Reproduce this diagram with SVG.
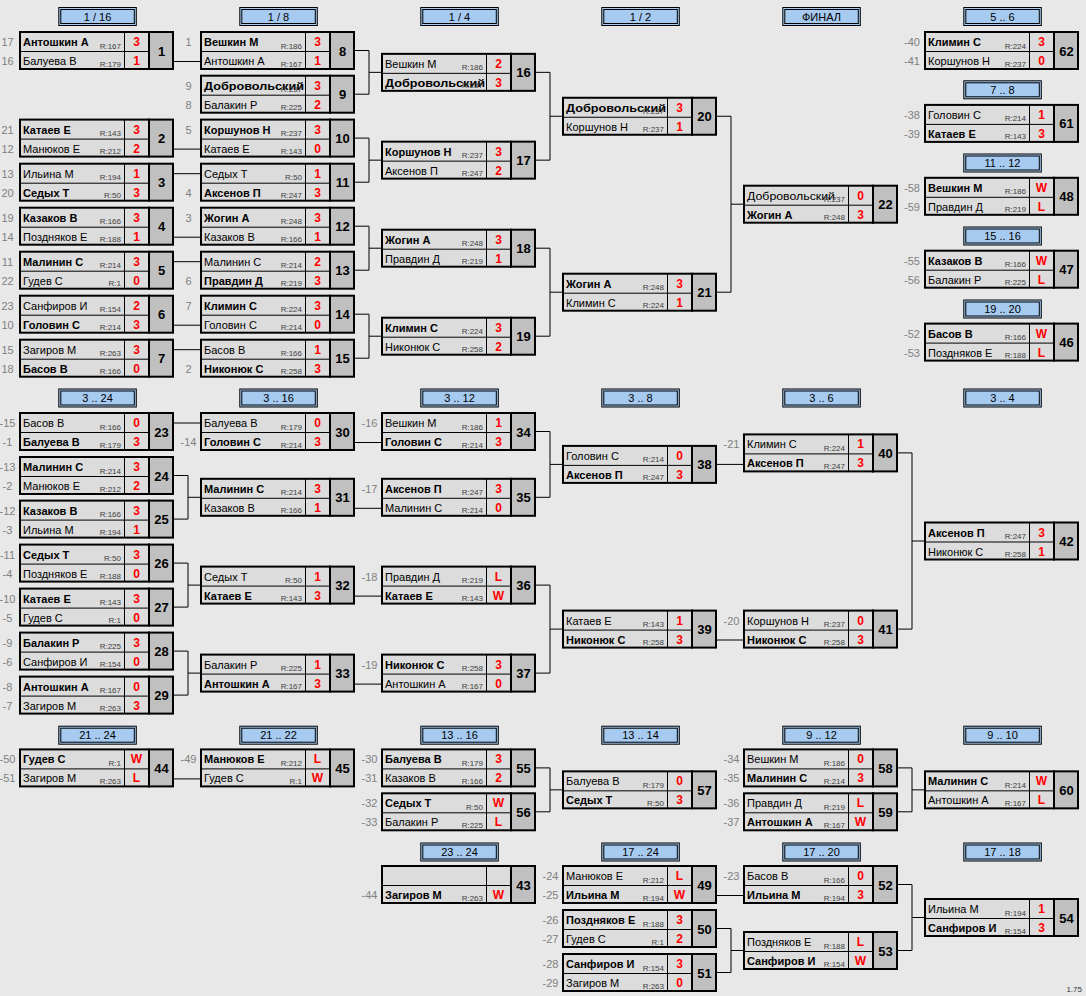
<svg xmlns="http://www.w3.org/2000/svg" width="1086" height="996" viewBox="0 0 1086 996">
<style>
text{font-family:"Liberation Sans",Arial,sans-serif;font-size:11px;fill:#000}
.b{font-weight:bold}
.r{font-size:8px;fill:#404040;text-anchor:end}
.s{font-size:12px;font-weight:bold;fill:#f00;text-anchor:middle}
.k{font-size:13px;font-weight:bold;text-anchor:middle}
.d{fill:#808080;text-anchor:middle}
.h{text-anchor:middle}
.v{font-size:8px;fill:#333;text-anchor:end}
</style>
<defs>
<clipPath id="nc" clipPathUnits="userSpaceOnUse"><rect x="1" y="1" width="104" height="37"/></clipPath>
<g id="box">
<rect x="1" y="1" width="153" height="37" fill="#dcdcdc"/>
<rect x="130" y="1" width="24" height="37" fill="#c0c0c0"/>
<path d="M1 20.5H130M105.5 1V38" stroke="#000" stroke-width="1" fill="none"/>
<path d="M130 0V39" stroke="#000" stroke-width="2"/>
<rect x="1" y="1" width="153" height="37" fill="none" stroke="#000" stroke-width="2"/>
</g>
<g id="hdr">
<rect x="0.5" y="0.5" width="77.5" height="18" fill="#a6caf0" stroke="#000" stroke-width="1"/>
<rect x="2.5" y="2.5" width="73.5" height="14" fill="#a6caf0" stroke="#000" stroke-width="1"/>
</g>
</defs>
<rect width="1086" height="996" fill="#e8e8e8"/>

<g id="headers">
<g id="h1"><use href="#hdr" x="58.3" y="7"/><text class="h" x="97.5" y="20.5">1 / 16</text></g>
<g id="h2"><use href="#hdr" x="239.3" y="7"/><text class="h" x="278.5" y="20.5">1 / 8</text></g>
<g id="h3"><use href="#hdr" x="420.3" y="7"/><text class="h" x="459.5" y="20.5">1 / 4</text></g>
<g id="h4"><use href="#hdr" x="601.3" y="7"/><text class="h" x="640.5" y="20.5">1 / 2</text></g>
<g id="h5"><use href="#hdr" x="782.3" y="7"/><text class="h" x="821.5" y="20.5">ФИНАЛ</text></g>
<g id="h6"><use href="#hdr" x="963.3" y="7"/><text class="h" x="1002.5" y="20.5">5 .. 6</text></g>
<g id="h7"><use href="#hdr" x="963.3" y="80.3"/><text class="h" x="1002.5" y="93.8">7 .. 8</text></g>
<g id="h8"><use href="#hdr" x="963.3" y="153.5"/><text class="h" x="1002.5" y="167">11 .. 12</text></g>
<g id="h9"><use href="#hdr" x="963.3" y="226.5"/><text class="h" x="1002.5" y="240">15 .. 16</text></g>
<g id="h10"><use href="#hdr" x="963.3" y="299.5"/><text class="h" x="1002.5" y="313">19 .. 20</text></g>
<g id="h11"><use href="#hdr" x="58.3" y="388.5"/><text class="h" x="97.5" y="402">3 .. 24</text></g>
<g id="h12"><use href="#hdr" x="239.3" y="388.5"/><text class="h" x="278.5" y="402">3 .. 16</text></g>
<g id="h13"><use href="#hdr" x="420.3" y="388.5"/><text class="h" x="459.5" y="402">3 .. 12</text></g>
<g id="h14"><use href="#hdr" x="601.3" y="388.5"/><text class="h" x="640.5" y="402">3 .. 8</text></g>
<g id="h15"><use href="#hdr" x="782.3" y="388.5"/><text class="h" x="821.5" y="402">3 .. 6</text></g>
<g id="h16"><use href="#hdr" x="963.3" y="388.5"/><text class="h" x="1002.5" y="402">3 .. 4</text></g>
<g id="h17"><use href="#hdr" x="58.3" y="725.7"/><text class="h" x="97.5" y="739.2">21 .. 24</text></g>
<g id="h18"><use href="#hdr" x="239.3" y="725.7"/><text class="h" x="278.5" y="739.2">21 .. 22</text></g>
<g id="h19"><use href="#hdr" x="420.3" y="725.7"/><text class="h" x="459.5" y="739.2">13 .. 16</text></g>
<g id="h20"><use href="#hdr" x="601.3" y="725.7"/><text class="h" x="640.5" y="739.2">13 .. 14</text></g>
<g id="h21"><use href="#hdr" x="782.3" y="725.7"/><text class="h" x="821.5" y="739.2">9 .. 12</text></g>
<g id="h22"><use href="#hdr" x="963.3" y="725.7"/><text class="h" x="1002.5" y="739.2">9 .. 10</text></g>
<g id="h23"><use href="#hdr" x="420.3" y="842.5"/><text class="h" x="459.5" y="856">23 .. 24</text></g>
<g id="h24"><use href="#hdr" x="601.3" y="842.5"/><text class="h" x="640.5" y="856">17 .. 24</text></g>
<g id="h25"><use href="#hdr" x="782.3" y="842.5"/><text class="h" x="821.5" y="856">17 .. 20</text></g>
<g id="h26"><use href="#hdr" x="963.3" y="842.5"/><text class="h" x="1002.5" y="856">17 .. 18</text></g>
</g>

<g id="connectors" fill="none" stroke="#000" stroke-width="1">
<path d="M174 61.5H200M174 149.1H200M174 173.7H200M174 237.2H200M174 261.7H200M174 325.2H200M174 349.7H200"/>
<path d="M355 50.5H369V94.2H355M369 72.35H381M355 138.1H369V182.2H355M369 160.15H381M355 226.2H369V270.2H355M369 248.2H381M355 314.2H369V358.2H355M369 336.2H381"/>
<path d="M536 72.35H550V160.15H536M550 116.25H562M536 248.2H550V336.2H536M550 292.2H562"/>
<path d="M717 116.25H731V292.2H717M731 204.2H743"/>
<path d="M174 423H200M174 475.5H188V519.1H174M188 497.3H200M174 563.1H188V607.1H174M188 585.1H200M174 651.1H188V695.1H174M188 673.1H200"/>
<path d="M355 442.5H381M355 508.3H381M355 596.1H381M355 684.1H381"/>
<path d="M536 431.5H550V497.3H536M550 464.4H562M536 585.1H550V673.1H536M550 629.1H562"/>
<path d="M717 464.4H743M717 640H743M898 452.9H912V629.1H898M912 541H924"/>
<path d="M174 778.9H200M536 767.9H550V811.8H536M550 789.85H562M898 767.9H912V811.8H898M912 789.85H924"/>
<path d="M717 895.5H743M717 928.5H731V972.5H717M731 950.5H743M898 884.5H912V950.5H898M912 917.5H924"/>
</g>

<g id="m1" transform="translate(19 31)"><use href="#box"/><text class="d" x="-11.5" y="15">17</text><text class="d" x="-11.5" y="34">16</text><text class="b" x="4" y="15">Антошкин А</text><text x="4" y="34">Балуева В</text><text class="r" x="102" y="17.5">R:167</text><text class="r" x="102" y="35.5">R:179</text><text class="s" x="117.5" y="15">3</text><text class="s" x="117.5" y="34">1</text><text class="k" x="142.5" y="24.5">1</text></g>
<g id="m2" transform="translate(19 118.6)"><use href="#box"/><text class="d" x="-11.5" y="15">21</text><text class="d" x="-11.5" y="34">12</text><text class="b" x="4" y="15">Катаев Е</text><text x="4" y="34">Манюков Е</text><text class="r" x="102" y="17.5">R:143</text><text class="r" x="102" y="35.5">R:212</text><text class="s" x="117.5" y="15">3</text><text class="s" x="117.5" y="34">2</text><text class="k" x="142.5" y="24.5">2</text></g>
<g id="m3" transform="translate(19 162.7)"><use href="#box"/><text class="d" x="-11.5" y="15">13</text><text class="d" x="-11.5" y="34">20</text><text x="4" y="15">Ильина М</text><text class="b" x="4" y="34">Седых Т</text><text class="r" x="102" y="17.5">R:194</text><text class="r" x="102" y="35.5">R:50</text><text class="s" x="117.5" y="15">1</text><text class="s" x="117.5" y="34">3</text><text class="k" x="142.5" y="24.5">3</text></g>
<g id="m4" transform="translate(19 206.7)"><use href="#box"/><text class="d" x="-11.5" y="15">19</text><text class="d" x="-11.5" y="34">14</text><text class="b" x="4" y="15">Казаков В</text><text x="4" y="34">Поздняков Е</text><text class="r" x="102" y="17.5">R:166</text><text class="r" x="102" y="35.5">R:188</text><text class="s" x="117.5" y="15">3</text><text class="s" x="117.5" y="34">1</text><text class="k" x="142.5" y="24.5">4</text></g>
<g id="m5" transform="translate(19 250.7)"><use href="#box"/><text class="d" x="-11.5" y="15">11</text><text class="d" x="-11.5" y="34">22</text><text class="b" x="4" y="15">Малинин С</text><text x="4" y="34">Гудев С</text><text class="r" x="102" y="17.5">R:214</text><text class="r" x="102" y="35.5">R:1</text><text class="s" x="117.5" y="15">3</text><text class="s" x="117.5" y="34">0</text><text class="k" x="142.5" y="24.5">5</text></g>
<g id="m6" transform="translate(19 294.7)"><use href="#box"/><text class="d" x="-11.5" y="15">23</text><text class="d" x="-11.5" y="34">10</text><text x="4" y="15">Санфиров И</text><text class="b" x="4" y="34">Головин С</text><text class="r" x="102" y="17.5">R:154</text><text class="r" x="102" y="35.5">R:214</text><text class="s" x="117.5" y="15">2</text><text class="s" x="117.5" y="34">3</text><text class="k" x="142.5" y="24.5">6</text></g>
<g id="m7" transform="translate(19 338.7)"><use href="#box"/><text class="d" x="-11.5" y="15">15</text><text class="d" x="-11.5" y="34">18</text><text x="4" y="15">Загиров М</text><text class="b" x="4" y="34">Басов В</text><text class="r" x="102" y="17.5">R:263</text><text class="r" x="102" y="35.5">R:166</text><text class="s" x="117.5" y="15">3</text><text class="s" x="117.5" y="34">0</text><text class="k" x="142.5" y="24.5">7</text></g>

<g id="m8" transform="translate(200 31)"><use href="#box"/><text class="d" x="-11.5" y="15">1</text><text class="b" x="4" y="15">Вешкин М</text><text x="4" y="34">Антошкин А</text><text class="r" x="102" y="17.5">R:186</text><text class="r" x="102" y="35.5">R:167</text><text class="s" x="117.5" y="15">3</text><text class="s" x="117.5" y="34">1</text><text class="k" x="142.5" y="24.5">8</text></g>
<g id="m9" transform="translate(200 74.7)"><use href="#box"/><text class="d" x="-11.5" y="15">9</text><text class="d" x="-11.5" y="34">8</text><text class="b" x="4" y="15" clip-path="url(#nc)" textLength="100" lengthAdjust="spacingAndGlyphs">Добровольский</text><text x="4" y="34">Балакин Р</text><text class="r" x="102" y="17.5">R:237</text><text class="r" x="102" y="35.5">R:225</text><text class="s" x="117.5" y="15">3</text><text class="s" x="117.5" y="34">2</text><text class="k" x="142.5" y="24.5">9</text></g>
<g id="m10" transform="translate(200 118.6)"><use href="#box"/><text class="d" x="-11.5" y="15">5</text><text class="b" x="4" y="15">Коршунов Н</text><text x="4" y="34">Катаев Е</text><text class="r" x="102" y="17.5">R:237</text><text class="r" x="102" y="35.5">R:143</text><text class="s" x="117.5" y="15">3</text><text class="s" x="117.5" y="34">0</text><text class="k" x="142.5" y="24.5">10</text></g>
<g id="m11" transform="translate(200 162.7)"><use href="#box"/><text class="d" x="-11.5" y="34">4</text><text x="4" y="15">Седых Т</text><text class="b" x="4" y="34">Аксенов П</text><text class="r" x="102" y="17.5">R:50</text><text class="r" x="102" y="35.5">R:247</text><text class="s" x="117.5" y="15">1</text><text class="s" x="117.5" y="34">3</text><text class="k" x="142.5" y="24.5">11</text></g>
<g id="m12" transform="translate(200 206.7)"><use href="#box"/><text class="d" x="-11.5" y="15">3</text><text class="b" x="4" y="15">Жогин А</text><text x="4" y="34">Казаков В</text><text class="r" x="102" y="17.5">R:248</text><text class="r" x="102" y="35.5">R:166</text><text class="s" x="117.5" y="15">3</text><text class="s" x="117.5" y="34">1</text><text class="k" x="142.5" y="24.5">12</text></g>
<g id="m13" transform="translate(200 250.7)"><use href="#box"/><text class="d" x="-11.5" y="34">6</text><text x="4" y="15">Малинин С</text><text class="b" x="4" y="34">Правдин Д</text><text class="r" x="102" y="17.5">R:214</text><text class="r" x="102" y="35.5">R:219</text><text class="s" x="117.5" y="15">2</text><text class="s" x="117.5" y="34">3</text><text class="k" x="142.5" y="24.5">13</text></g>
<g id="m14" transform="translate(200 294.7)"><use href="#box"/><text class="d" x="-11.5" y="15">7</text><text class="b" x="4" y="15">Климин С</text><text x="4" y="34">Головин С</text><text class="r" x="102" y="17.5">R:224</text><text class="r" x="102" y="35.5">R:214</text><text class="s" x="117.5" y="15">3</text><text class="s" x="117.5" y="34">0</text><text class="k" x="142.5" y="24.5">14</text></g>
<g id="m15" transform="translate(200 338.7)"><use href="#box"/><text class="d" x="-11.5" y="34">2</text><text x="4" y="15">Басов В</text><text class="b" x="4" y="34">Никонюк С</text><text class="r" x="102" y="17.5">R:166</text><text class="r" x="102" y="35.5">R:258</text><text class="s" x="117.5" y="15">1</text><text class="s" x="117.5" y="34">3</text><text class="k" x="142.5" y="24.5">15</text></g>

<g id="m16" transform="translate(381 52.85)"><use href="#box"/><text x="4" y="15">Вешкин М</text><text class="b" x="4" y="34" clip-path="url(#nc)" textLength="100" lengthAdjust="spacingAndGlyphs">Добровольский</text><text class="r" x="102" y="17.5">R:186</text><text class="r" x="102" y="35.5">R:237</text><text class="s" x="117.5" y="15">2</text><text class="s" x="117.5" y="34">3</text><text class="k" x="142.5" y="24.5">16</text></g>
<g id="m17" transform="translate(381 140.65)"><use href="#box"/><text class="b" x="4" y="15">Коршунов Н</text><text x="4" y="34">Аксенов П</text><text class="r" x="102" y="17.5">R:237</text><text class="r" x="102" y="35.5">R:247</text><text class="s" x="117.5" y="15">3</text><text class="s" x="117.5" y="34">2</text><text class="k" x="142.5" y="24.5">17</text></g>
<g id="m18" transform="translate(381 228.7)"><use href="#box"/><text class="b" x="4" y="15">Жогин А</text><text x="4" y="34">Правдин Д</text><text class="r" x="102" y="17.5">R:248</text><text class="r" x="102" y="35.5">R:219</text><text class="s" x="117.5" y="15">3</text><text class="s" x="117.5" y="34">1</text><text class="k" x="142.5" y="24.5">18</text></g>
<g id="m19" transform="translate(381 316.7)"><use href="#box"/><text class="b" x="4" y="15">Климин С</text><text x="4" y="34">Никонюк С</text><text class="r" x="102" y="17.5">R:224</text><text class="r" x="102" y="35.5">R:258</text><text class="s" x="117.5" y="15">3</text><text class="s" x="117.5" y="34">2</text><text class="k" x="142.5" y="24.5">19</text></g>
<g id="m20" transform="translate(562 96.75)"><use href="#box"/><text class="b" x="4" y="15" clip-path="url(#nc)" textLength="100" lengthAdjust="spacingAndGlyphs">Добровольский</text><text x="4" y="34">Коршунов Н</text><text class="r" x="102" y="17.5">R:237</text><text class="r" x="102" y="35.5">R:237</text><text class="s" x="117.5" y="15">3</text><text class="s" x="117.5" y="34">1</text><text class="k" x="142.5" y="24.5">20</text></g>
<g id="m21" transform="translate(562 272.7)"><use href="#box"/><text class="b" x="4" y="15">Жогин А</text><text x="4" y="34">Климин С</text><text class="r" x="102" y="17.5">R:248</text><text class="r" x="102" y="35.5">R:224</text><text class="s" x="117.5" y="15">3</text><text class="s" x="117.5" y="34">1</text><text class="k" x="142.5" y="24.5">21</text></g>
<g id="m22" transform="translate(743 184.7)"><use href="#box"/><text x="4" y="15" clip-path="url(#nc)" textLength="88" lengthAdjust="spacingAndGlyphs">Добровольский</text><text class="b" x="4" y="34">Жогин А</text><text class="r" x="102" y="17.5">R:237</text><text class="r" x="102" y="35.5">R:248</text><text class="s" x="117.5" y="15">0</text><text class="s" x="117.5" y="34">3</text><text class="k" x="142.5" y="24.5">22</text></g>

<g id="m62" transform="translate(924 31)"><use href="#box"/><text class="d" x="-12" y="15">-40</text><text class="d" x="-12" y="34">-41</text><text class="b" x="4" y="15">Климин С</text><text x="4" y="34">Коршунов Н</text><text class="r" x="102" y="17.5">R:224</text><text class="r" x="102" y="35.5">R:237</text><text class="s" x="117.5" y="15">3</text><text class="s" x="117.5" y="34">0</text><text class="k" x="142.5" y="24.5">62</text></g>
<g id="m61" transform="translate(924 103.9)"><use href="#box"/><text class="d" x="-12" y="15">-38</text><text class="d" x="-12" y="34">-39</text><text x="4" y="15">Головин С</text><text class="b" x="4" y="34">Катаев Е</text><text class="r" x="102" y="17.5">R:214</text><text class="r" x="102" y="35.5">R:143</text><text class="s" x="117.5" y="15">1</text><text class="s" x="117.5" y="34">3</text><text class="k" x="142.5" y="24.5">61</text></g>
<g id="m48" transform="translate(924 176.8)"><use href="#box"/><text class="d" x="-12" y="15">-58</text><text class="d" x="-12" y="34">-59</text><text class="b" x="4" y="15">Вешкин М</text><text x="4" y="34">Правдин Д</text><text class="r" x="102" y="17.5">R:186</text><text class="r" x="102" y="35.5">R:219</text><text class="s" x="117.5" y="15">W</text><text class="s" x="117.5" y="34">L</text><text class="k" x="142.5" y="24.5">48</text></g>
<g id="m47" transform="translate(924 249.7)"><use href="#box"/><text class="d" x="-12" y="15">-55</text><text class="d" x="-12" y="34">-56</text><text class="b" x="4" y="15">Казаков В</text><text x="4" y="34">Балакин Р</text><text class="r" x="102" y="17.5">R:166</text><text class="r" x="102" y="35.5">R:225</text><text class="s" x="117.5" y="15">W</text><text class="s" x="117.5" y="34">L</text><text class="k" x="142.5" y="24.5">47</text></g>
<g id="m46" transform="translate(924 322.6)"><use href="#box"/><text class="d" x="-12" y="15">-52</text><text class="d" x="-12" y="34">-53</text><text class="b" x="4" y="15">Басов В</text><text x="4" y="34">Поздняков Е</text><text class="r" x="102" y="17.5">R:166</text><text class="r" x="102" y="35.5">R:188</text><text class="s" x="117.5" y="15">W</text><text class="s" x="117.5" y="34">L</text><text class="k" x="142.5" y="24.5">46</text></g>

<g id="m23" transform="translate(19 412)"><use href="#box"/><text class="d" x="-11.5" y="15">-15</text><text class="d" x="-11.5" y="34">-1</text><text x="4" y="15">Басов В</text><text class="b" x="4" y="34">Балуева В</text><text class="r" x="102" y="17.5">R:166</text><text class="r" x="102" y="35.5">R:179</text><text class="s" x="117.5" y="15">0</text><text class="s" x="117.5" y="34">3</text><text class="k" x="142.5" y="24.5">23</text></g>
<g id="m24" transform="translate(19 456)"><use href="#box"/><text class="d" x="-11.5" y="15">-13</text><text class="d" x="-11.5" y="34">-2</text><text class="b" x="4" y="15">Малинин С</text><text x="4" y="34">Манюков Е</text><text class="r" x="102" y="17.5">R:214</text><text class="r" x="102" y="35.5">R:212</text><text class="s" x="117.5" y="15">3</text><text class="s" x="117.5" y="34">2</text><text class="k" x="142.5" y="24.5">24</text></g>
<g id="m25" transform="translate(19 499.6)"><use href="#box"/><text class="d" x="-11.5" y="15">-12</text><text class="d" x="-11.5" y="34">-3</text><text class="b" x="4" y="15">Казаков В</text><text x="4" y="34">Ильина М</text><text class="r" x="102" y="17.5">R:166</text><text class="r" x="102" y="35.5">R:194</text><text class="s" x="117.5" y="15">3</text><text class="s" x="117.5" y="34">1</text><text class="k" x="142.5" y="24.5">25</text></g>
<g id="m26" transform="translate(19 543.6)"><use href="#box"/><text class="d" x="-11.5" y="15">-11</text><text class="d" x="-11.5" y="34">-4</text><text class="b" x="4" y="15">Седых Т</text><text x="4" y="34">Поздняков Е</text><text class="r" x="102" y="17.5">R:50</text><text class="r" x="102" y="35.5">R:188</text><text class="s" x="117.5" y="15">3</text><text class="s" x="117.5" y="34">0</text><text class="k" x="142.5" y="24.5">26</text></g>
<g id="m27" transform="translate(19 587.6)"><use href="#box"/><text class="d" x="-11.5" y="15">-10</text><text class="d" x="-11.5" y="34">-5</text><text class="b" x="4" y="15">Катаев Е</text><text x="4" y="34">Гудев С</text><text class="r" x="102" y="17.5">R:143</text><text class="r" x="102" y="35.5">R:1</text><text class="s" x="117.5" y="15">3</text><text class="s" x="117.5" y="34">0</text><text class="k" x="142.5" y="24.5">27</text></g>
<g id="m28" transform="translate(19 631.6)"><use href="#box"/><text class="d" x="-11.5" y="15">-9</text><text class="d" x="-11.5" y="34">-6</text><text class="b" x="4" y="15">Балакин Р</text><text x="4" y="34">Санфиров И</text><text class="r" x="102" y="17.5">R:225</text><text class="r" x="102" y="35.5">R:154</text><text class="s" x="117.5" y="15">3</text><text class="s" x="117.5" y="34">0</text><text class="k" x="142.5" y="24.5">28</text></g>
<g id="m29" transform="translate(19 675.6)"><use href="#box"/><text class="d" x="-11.5" y="15">-8</text><text class="d" x="-11.5" y="34">-7</text><text class="b" x="4" y="15">Антошкин А</text><text x="4" y="34">Загиров М</text><text class="r" x="102" y="17.5">R:167</text><text class="r" x="102" y="35.5">R:263</text><text class="s" x="117.5" y="15">0</text><text class="s" x="117.5" y="34">3</text><text class="k" x="142.5" y="24.5">29</text></g>

<g id="m30" transform="translate(200 412)"><use href="#box"/><text class="d" x="-11.5" y="34">-14</text><text x="4" y="15">Балуева В</text><text class="b" x="4" y="34">Головин С</text><text class="r" x="102" y="17.5">R:179</text><text class="r" x="102" y="35.5">R:214</text><text class="s" x="117.5" y="15">0</text><text class="s" x="117.5" y="34">3</text><text class="k" x="142.5" y="24.5">30</text></g>
<g id="m31" transform="translate(200 477.8)"><use href="#box"/><text class="b" x="4" y="15">Малинин С</text><text x="4" y="34">Казаков В</text><text class="r" x="102" y="17.5">R:214</text><text class="r" x="102" y="35.5">R:166</text><text class="s" x="117.5" y="15">3</text><text class="s" x="117.5" y="34">1</text><text class="k" x="142.5" y="24.5">31</text></g>
<g id="m32" transform="translate(200 565.6)"><use href="#box"/><text x="4" y="15">Седых Т</text><text class="b" x="4" y="34">Катаев Е</text><text class="r" x="102" y="17.5">R:50</text><text class="r" x="102" y="35.5">R:143</text><text class="s" x="117.5" y="15">1</text><text class="s" x="117.5" y="34">3</text><text class="k" x="142.5" y="24.5">32</text></g>
<g id="m33" transform="translate(200 653.6)"><use href="#box"/><text x="4" y="15">Балакин Р</text><text class="b" x="4" y="34">Антошкин А</text><text class="r" x="102" y="17.5">R:225</text><text class="r" x="102" y="35.5">R:167</text><text class="s" x="117.5" y="15">1</text><text class="s" x="117.5" y="34">3</text><text class="k" x="142.5" y="24.5">33</text></g>

<g id="m34" transform="translate(381 412)"><use href="#box"/><text class="d" x="-11.5" y="15">-16</text><text x="4" y="15">Вешкин М</text><text class="b" x="4" y="34">Головин С</text><text class="r" x="102" y="17.5">R:186</text><text class="r" x="102" y="35.5">R:214</text><text class="s" x="117.5" y="15">1</text><text class="s" x="117.5" y="34">3</text><text class="k" x="142.5" y="24.5">34</text></g>
<g id="m35" transform="translate(381 477.8)"><use href="#box"/><text class="d" x="-11.5" y="15">-17</text><text class="b" x="4" y="15">Аксенов П</text><text x="4" y="34">Малинин С</text><text class="r" x="102" y="17.5">R:247</text><text class="r" x="102" y="35.5">R:214</text><text class="s" x="117.5" y="15">3</text><text class="s" x="117.5" y="34">0</text><text class="k" x="142.5" y="24.5">35</text></g>
<g id="m36" transform="translate(381 565.6)"><use href="#box"/><text class="d" x="-11.5" y="15">-18</text><text x="4" y="15">Правдин Д</text><text class="b" x="4" y="34">Катаев Е</text><text class="r" x="102" y="17.5">R:219</text><text class="r" x="102" y="35.5">R:143</text><text class="s" x="117.5" y="15">L</text><text class="s" x="117.5" y="34">W</text><text class="k" x="142.5" y="24.5">36</text></g>
<g id="m37" transform="translate(381 653.6)"><use href="#box"/><text class="d" x="-11.5" y="15">-19</text><text class="b" x="4" y="15">Никонюк С</text><text x="4" y="34">Антошкин А</text><text class="r" x="102" y="17.5">R:258</text><text class="r" x="102" y="35.5">R:167</text><text class="s" x="117.5" y="15">3</text><text class="s" x="117.5" y="34">0</text><text class="k" x="142.5" y="24.5">37</text></g>
<g id="m38" transform="translate(562 444.9)"><use href="#box"/><text x="4" y="15">Головин С</text><text class="b" x="4" y="34">Аксенов П</text><text class="r" x="102" y="17.5">R:214</text><text class="r" x="102" y="35.5">R:247</text><text class="s" x="117.5" y="15">0</text><text class="s" x="117.5" y="34">3</text><text class="k" x="142.5" y="24.5">38</text></g>
<g id="m39" transform="translate(562 609.6)"><use href="#box"/><text x="4" y="15">Катаев Е</text><text class="b" x="4" y="34">Никонюк С</text><text class="r" x="102" y="17.5">R:143</text><text class="r" x="102" y="35.5">R:258</text><text class="s" x="117.5" y="15">1</text><text class="s" x="117.5" y="34">3</text><text class="k" x="142.5" y="24.5">39</text></g>
<g id="m40" transform="translate(743 433.4)"><use href="#box"/><text class="d" x="-11.5" y="15">-21</text><text x="4" y="15">Климин С</text><text class="b" x="4" y="34">Аксенов П</text><text class="r" x="102" y="17.5">R:224</text><text class="r" x="102" y="35.5">R:247</text><text class="s" x="117.5" y="15">1</text><text class="s" x="117.5" y="34">3</text><text class="k" x="142.5" y="24.5">40</text></g>
<g id="m41" transform="translate(743 609.6)"><use href="#box"/><text class="d" x="-11.5" y="15">-20</text><text x="4" y="15">Коршунов Н</text><text class="b" x="4" y="34">Никонюк С</text><text class="r" x="102" y="17.5">R:237</text><text class="r" x="102" y="35.5">R:258</text><text class="s" x="117.5" y="15">0</text><text class="s" x="117.5" y="34">3</text><text class="k" x="142.5" y="24.5">41</text></g>
<g id="m42" transform="translate(924 521.5)"><use href="#box"/><text class="b" x="4" y="15">Аксенов П</text><text x="4" y="34">Никонюк С</text><text class="r" x="102" y="17.5">R:247</text><text class="r" x="102" y="35.5">R:258</text><text class="s" x="117.5" y="15">3</text><text class="s" x="117.5" y="34">1</text><text class="k" x="142.5" y="24.5">42</text></g>

<g id="m44" transform="translate(19 748.4)"><use href="#box"/><text class="d" x="-11.5" y="15">-50</text><text class="d" x="-11.5" y="34">-51</text><text class="b" x="4" y="15">Гудев С</text><text x="4" y="34">Загиров М</text><text class="r" x="102" y="17.5">R:1</text><text class="r" x="102" y="35.5">R:263</text><text class="s" x="117.5" y="15">W</text><text class="s" x="117.5" y="34">L</text><text class="k" x="142.5" y="24.5">44</text></g>
<g id="m45" transform="translate(200 748.4)"><use href="#box"/><text class="d" x="-11.5" y="15">-49</text><text class="b" x="4" y="15">Манюков Е</text><text x="4" y="34">Гудев С</text><text class="r" x="102" y="17.5">R:212</text><text class="r" x="102" y="35.5">R:1</text><text class="s" x="117.5" y="15">L</text><text class="s" x="117.5" y="34">W</text><text class="k" x="142.5" y="24.5">45</text></g>
<g id="m55" transform="translate(381 748.4)"><use href="#box"/><text class="d" x="-11.5" y="15">-30</text><text class="d" x="-11.5" y="34">-31</text><text class="b" x="4" y="15">Балуева В</text><text x="4" y="34">Казаков В</text><text class="r" x="102" y="17.5">R:179</text><text class="r" x="102" y="35.5">R:166</text><text class="s" x="117.5" y="15">3</text><text class="s" x="117.5" y="34">2</text><text class="k" x="142.5" y="24.5">55</text></g>
<g id="m56" transform="translate(381 792.3)"><use href="#box"/><text class="d" x="-11.5" y="15">-32</text><text class="d" x="-11.5" y="34">-33</text><text class="b" x="4" y="15">Седых Т</text><text x="4" y="34">Балакин Р</text><text class="r" x="102" y="17.5">R:50</text><text class="r" x="102" y="35.5">R:225</text><text class="s" x="117.5" y="15">W</text><text class="s" x="117.5" y="34">L</text><text class="k" x="142.5" y="24.5">56</text></g>
<g id="m57" transform="translate(562 770.35)"><use href="#box"/><text x="4" y="15">Балуева В</text><text class="b" x="4" y="34">Седых Т</text><text class="r" x="102" y="17.5">R:179</text><text class="r" x="102" y="35.5">R:50</text><text class="s" x="117.5" y="15">0</text><text class="s" x="117.5" y="34">3</text><text class="k" x="142.5" y="24.5">57</text></g>
<g id="m58" transform="translate(743 748.4)"><use href="#box"/><text class="d" x="-11.5" y="15">-34</text><text class="d" x="-11.5" y="34">-35</text><text x="4" y="15">Вешкин М</text><text class="b" x="4" y="34">Малинин С</text><text class="r" x="102" y="17.5">R:186</text><text class="r" x="102" y="35.5">R:214</text><text class="s" x="117.5" y="15">0</text><text class="s" x="117.5" y="34">3</text><text class="k" x="142.5" y="24.5">58</text></g>
<g id="m59" transform="translate(743 792.3)"><use href="#box"/><text class="d" x="-11.5" y="15">-36</text><text class="d" x="-11.5" y="34">-37</text><text x="4" y="15">Правдин Д</text><text class="b" x="4" y="34">Антошкин А</text><text class="r" x="102" y="17.5">R:219</text><text class="r" x="102" y="35.5">R:167</text><text class="s" x="117.5" y="15">L</text><text class="s" x="117.5" y="34">W</text><text class="k" x="142.5" y="24.5">59</text></g>
<g id="m60" transform="translate(924 770.35)"><use href="#box"/><text class="b" x="4" y="15">Малинин С</text><text x="4" y="34">Антошкин А</text><text class="r" x="102" y="17.5">R:214</text><text class="r" x="102" y="35.5">R:167</text><text class="s" x="117.5" y="15">W</text><text class="s" x="117.5" y="34">L</text><text class="k" x="142.5" y="24.5">60</text></g>

<g id="m43" transform="translate(381 865)"><use href="#box"/><text class="d" x="-11.5" y="34">-44</text><text class="b" x="4" y="34">Загиров М</text><text class="r" x="102" y="35.5">R:263</text><text class="s" x="117.5" y="34">W</text><text class="k" x="142.5" y="24.5">43</text></g>
<g id="m49" transform="translate(562 865)"><use href="#box"/><text class="d" x="-11.5" y="15">-24</text><text class="d" x="-11.5" y="34">-25</text><text x="4" y="15">Манюков Е</text><text class="b" x="4" y="34">Ильина М</text><text class="r" x="102" y="17.5">R:212</text><text class="r" x="102" y="35.5">R:194</text><text class="s" x="117.5" y="15">L</text><text class="s" x="117.5" y="34">W</text><text class="k" x="142.5" y="24.5">49</text></g>
<g id="m50" transform="translate(562 909)"><use href="#box"/><text class="d" x="-11.5" y="15">-26</text><text class="d" x="-11.5" y="34">-27</text><text class="b" x="4" y="15">Поздняков Е</text><text x="4" y="34">Гудев С</text><text class="r" x="102" y="17.5">R:188</text><text class="r" x="102" y="35.5">R:1</text><text class="s" x="117.5" y="15">3</text><text class="s" x="117.5" y="34">2</text><text class="k" x="142.5" y="24.5">50</text></g>
<g id="m51" transform="translate(562 953)"><use href="#box"/><text class="d" x="-11.5" y="15">-28</text><text class="d" x="-11.5" y="34">-29</text><text class="b" x="4" y="15">Санфиров И</text><text x="4" y="34">Загиров М</text><text class="r" x="102" y="17.5">R:154</text><text class="r" x="102" y="35.5">R:263</text><text class="s" x="117.5" y="15">3</text><text class="s" x="117.5" y="34">0</text><text class="k" x="142.5" y="24.5">51</text></g>
<g id="m52" transform="translate(743 865)"><use href="#box"/><text class="d" x="-11.5" y="15">-23</text><text x="4" y="15">Басов В</text><text class="b" x="4" y="34">Ильина М</text><text class="r" x="102" y="17.5">R:166</text><text class="r" x="102" y="35.5">R:194</text><text class="s" x="117.5" y="15">0</text><text class="s" x="117.5" y="34">3</text><text class="k" x="142.5" y="24.5">52</text></g>
<g id="m53" transform="translate(743 931)"><use href="#box"/><text x="4" y="15">Поздняков Е</text><text class="b" x="4" y="34">Санфиров И</text><text class="r" x="102" y="17.5">R:188</text><text class="r" x="102" y="35.5">R:154</text><text class="s" x="117.5" y="15">L</text><text class="s" x="117.5" y="34">W</text><text class="k" x="142.5" y="24.5">53</text></g>
<g id="m54" transform="translate(924 898)"><use href="#box"/><text x="4" y="15">Ильина М</text><text class="b" x="4" y="34">Санфиров И</text><text class="r" x="102" y="17.5">R:194</text><text class="r" x="102" y="35.5">R:154</text><text class="s" x="117.5" y="15">1</text><text class="s" x="117.5" y="34">3</text><text class="k" x="142.5" y="24.5">54</text></g>

<text class="v" x="1082" y="992">1.75</text>
</svg>
